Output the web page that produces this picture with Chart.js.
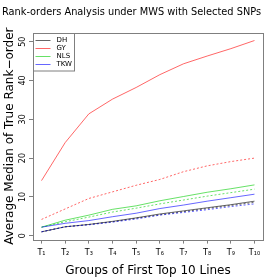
<!DOCTYPE html>
<html><head><meta charset="utf-8">
<script src="https://cdn.jsdelivr.net/npm/chart.js@4/dist/chart.umd.min.js"></script>
<style>html,body{margin:0;padding:0;background:#fff}#wrap{width:280px;height:280px}</style>
</head><body><div id="wrap"><canvas id="c" width="280" height="280"></canvas></div>
<script>
const xValues = [1,2,3,4,5,6,7,8,9,10];
const xLabels = ['T\u2081','T\u2082','T\u2083','T\u2084','T\u2085','T\u2086','T\u2087','T\u2088','T\u2089','T\u2081\u2080'];
const yTicks = [0,10,20,30,40,50];
const seriesNames = ['DH','GY','NLS','TKW'];
const dhSolid  = [1.0, 2.3, 2.9, 3.7, 4.6, 5.6, 6.4, 7.2, 8.0, 8.9];
const dhDotted = [1.0, 2.3, 2.9, 3.6, 4.5, 5.4, 6.2, 7.0, 7.8, 8.6];
const gySolid  = [14.2, 24.0, 31.4, 35.2, 38.2, 41.5, 44.3, 46.3, 48.2, 50.3];
const gyDotted = [4.2, 6.9, 9.6, 11.3, 13.0, 14.5, 16.5, 18.0, 19.1, 20.0];
const nlsSolid  = [2.2, 4.0, 5.3, 6.8, 7.7, 9.0, 10.1, 11.2, 12.1, 13.1];
const nlsDotted = [2.2, 3.6, 4.8, 6.1, 7.1, 8.2, 9.2, 10.2, 11.1, 12.0];
const tkwSolid  = [2.2, 3.2, 3.9, 4.9, 5.8, 7.0, 7.9, 8.9, 9.8, 10.7];
const tkwDotted = [1.0, 2.3, 2.8, 3.5, 4.3, 5.3, 6.0, 6.7, 7.5, 8.2];

const colors = {DH:'rgba(0,0,0,0.6)', GY:'rgba(255,0,0,0.6)', NLS:'rgba(0,205,0,0.6)', TKW:'rgba(0,0,255,0.6)'};
const FONT = "'DejaVu Sans', sans-serif";

function ds(name, vals, dotted){
  return {label:name, data: xValues.map((x,i)=>({x:x,y:vals[i]})), borderColor: colors[name],
    borderWidth: 1, borderDash: dotted ? [2,2] : [], pointRadius: 0, fill:false, tension:0};
}
const datasets = [
  ds('TKW', tkwSolid, false), ds('TKW', tkwDotted, true),
  ds('NLS', nlsSolid, false), ds('NLS', nlsDotted, true),
  ds('GY', gySolid, false), ds('GY', gyDotted, true),
  ds('DH', dhSolid, false), ds('DH', dhDotted, true)
];

const boxPlugin = {
  id:'rbox',
  afterDraw(chart){
    const {ctx, chartArea:a} = chart;
    ctx.save();
    ctx.strokeStyle = '#7f7f7f'; ctx.lineWidth = 1;
    ctx.strokeRect(Math.round(a.left)+0.5, Math.round(a.top)+0.5, Math.round(a.right-a.left), Math.round(a.bottom-a.top));
    const lx = Math.round(a.left)+0.5, ly = Math.round(a.top)+0.5;
    ctx.strokeRect(lx, ly, 41, 37.5);
    ctx.font = "7px " + FONT; ctx.textBaseline = 'middle'; ctx.textAlign = 'left'; ctx.fillStyle = '#000';
    seriesNames.forEach((n,i)=>{
      const y = ly + 7 + i*8;
      ctx.strokeStyle = colors[n]; ctx.beginPath(); ctx.moveTo(lx+2, y); ctx.lineTo(lx+17, y); ctx.stroke();
      ctx.fillText(n, lx+23, y);
    });
    ctx.restore();
  }
};

new Chart(document.getElementById('c'), {
  type:'line',
  data:{datasets},
  options:{
    responsive:false, animation:false, devicePixelRatio:1,
    layout:{padding:{left:0,right:17,top:0,bottom:0}},
    plugins:{
      legend:{display:false}, tooltip:{enabled:false},
      title:{display:true, text:'Rank-orders Analysis under MWS with Selected SNPs', color:'#000',
        font:{family:FONT, size:9.8, weight:'normal'}, padding:{top:7,bottom:14}}
    },
    scales:{
      x:{type:'linear', min:0.64, max:10.36,
        afterBuildTicks(s){ s.ticks = xValues.map(v=>({value:v})); },
        afterFit(s){ s.height = 40.4; },
        grid:{drawOnChartArea:false, drawTicks:true, tickLength:4, color:'#7f7f7f'},
        border:{display:false},
        ticks:{color:'#000', font:{family:FONT, size:8}, padding:5, maxRotation:0, autoSkip:false,
          callback:(v)=>xLabels[xValues.indexOf(v)]},
        title:{display:true, text:'Groups of First Top 10 Lines', color:'#000', font:{family:FONT,size:12}, padding:{top:0,bottom:2}}
      },
      y:{type:'linear', min:-1, max:52.3,
        afterBuildTicks(s){ s.ticks = yTicks.map(v=>({value:v})); },
        afterFit(s){ s.width = 33; },
        grid:{drawOnChartArea:false, drawTicks:true, tickLength:4, color:'#7f7f7f'},
        border:{display:false},
        ticks:{color:'#000', font:{family:FONT, size:8}, padding:1, minRotation:90, maxRotation:90, crossAlign:'center'},
        title:{display:true, text:'Average Median of True Rank\u2212order', color:'#000', font:{family:FONT,size:12}, padding:{top:3,bottom:0}}
      }
    }
  },
  plugins:[boxPlugin]
});
</script></body></html>
